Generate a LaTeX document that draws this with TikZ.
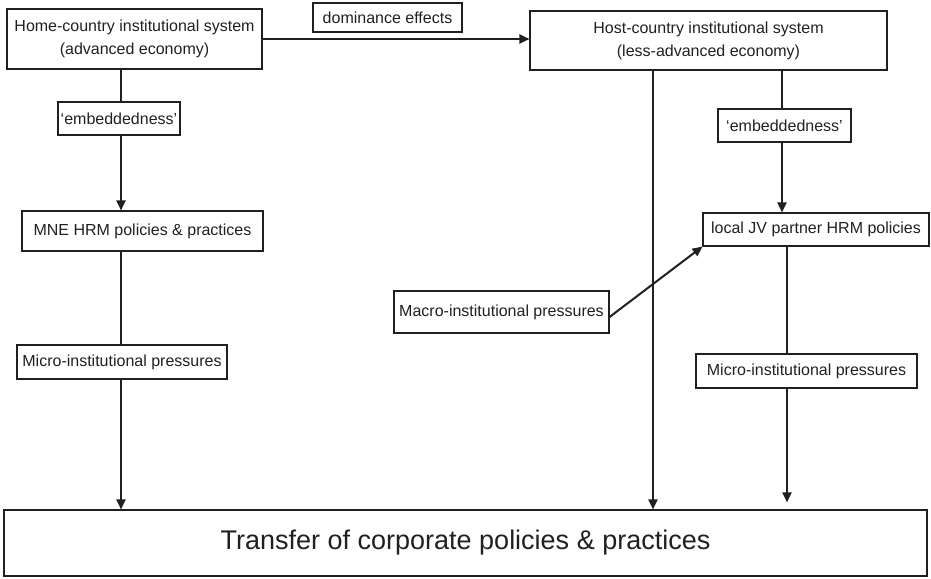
\documentclass[tikz,border=0pt]{standalone}
\usepackage{fontspec}
\setmainfont{Liberation Sans}
\usetikzlibrary{arrows.meta}
\definecolor{ink}{HTML}{231F20}
\begin{document}
\begin{tikzpicture}[x=1pt,y=-1pt,
  box/.style={draw=ink,line width=1.1pt,rectangle,inner sep=0pt,align=center,
    text=ink,font=\fontsize{16}{23}\selectfont},
  conn/.style={draw=ink,line width=2pt},
  arr/.style={conn,-{Triangle[length=10pt,width=9pt]}}]
\useasboundingbox (0,0) rectangle (931,578);
\node[box,minimum width=255pt,minimum height=60pt] (home) at (134.5,39) {Home-country institutional system\\(advanced economy)};
\node[box,minimum width=149pt,minimum height=29pt] (dom) at (387.5,17.5) {dominance effects};
\node[box,minimum width=357pt,minimum height=59pt] (host) at (708.5,40.5) {Host-country institutional system\\(less-advanced economy)};
\node[box,minimum width=122pt,minimum height=33pt] (emb1) at (119,118.5) {‘embeddedness’};
\node[box,minimum width=133pt,minimum height=33pt] (emb2) at (784.5,125.5) {‘embeddedness’};
\node[box,minimum width=241pt,minimum height=40pt] (mne) at (142.5,231) {MNE HRM policies \& practices};
\node[box,minimum width=226pt,minimum height=33pt] (jv) at (816,229.5) {local JV partner HRM policies};
\node[box,minimum width=215pt,minimum height=42pt] (macro) at (501.5,312) {Macro-institutional pressures};
\node[box,minimum width=210pt,minimum height=34pt] (micro1) at (122,362) {Micro-institutional pressures};
\node[box,minimum width=221pt,minimum height=34pt] (micro2) at (806.5,371) {Micro-institutional pressures};
\node[box,minimum width=923pt,minimum height=66pt,font=\fontsize{27}{30}\selectfont] (transfer) at (465.5,543) {Transfer of corporate policies \& practices};
\coordinate (lx) at (121,0);
\coordinate (hx) at (653,0);
\coordinate (rx) at (782,0);
\coordinate (rx2) at (787,0);
% dominance effects
\draw[arr] (home.east) -- (host.west |- home.east);
% left column
\draw[conn] (home.south -| lx) -- (emb1.north -| lx);
\draw[arr] (emb1.south -| lx) -- (mne.north -| lx);
\draw[conn] (mne.south -| lx) -- (micro1.north -| lx);
\draw[arr] (micro1.south -| lx) -- (transfer.north -| lx);
% host direct
\draw[arr] (host.south -| hx) -- (transfer.north -| hx);
% right column
\draw[conn] (host.south -| rx) -- (emb2.north -| rx);
\draw[arr] (emb2.south -| rx) -- (jv.north -| rx);
\draw[conn] (jv.south -| rx2) -- (micro2.north -| rx2);
\draw[arr] (micro2.south -| rx2) -- ([yshift=7pt]transfer.north -| rx2);
% macro
\draw[arr] ([yshift=-5pt]macro.east) -- (jv.south west);
\end{tikzpicture}
\end{document}
